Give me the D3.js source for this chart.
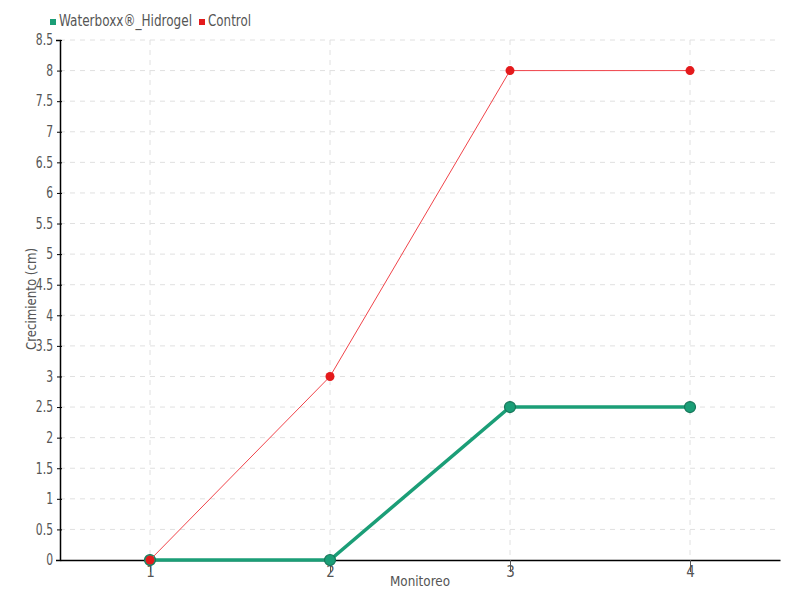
<!DOCTYPE html>
<html><head><meta charset="utf-8">
<script src="https://cdn.jsdelivr.net/npm/d3@7"></script>
<style>
body{margin:0;background:#fff;}
text{font-family:"DejaVu Sans Condensed","Liberation Sans Narrow",sans-serif;}
</style></head>
<body><svg id="c" width="800" height="600"></svg>
<script>
const categories = [1, 2, 3, 4];
const seriesNames = ["Waterboxx®_Hidrogel", "Control"];
const waterboxx = [0, 0, 2.5, 2.5];
const control = [0, 3, 8, 8];
const yTicks = [0,0.5,1,1.5,2,2.5,3,3.5,4,4.5,5,5.5,6,6.5,7,7.5,8,8.5];
const colors = ["#1b9e77", "#e41a1c"];

const svg = d3.select("#c");
const x = d3.scaleLinear().domain([0.5, 4.5]).range([60, 780]);
const y = d3.scaleLinear().domain([0, 8.5]).range([560, 40]);

// grid
svg.append("g").selectAll("line").data(yTicks.slice(1)).join("line")
  .attr("x1", 60).attr("x2", 780).attr("y1", d => y(d)).attr("y2", d => y(d))
  .attr("stroke", "#e0e0e0").attr("stroke-dasharray", "5,5");
svg.append("g").selectAll("line").data(categories).join("line")
  .attr("x1", d => x(d)).attr("x2", d => x(d)).attr("y1", 40).attr("y2", 560)
  .attr("stroke", "#e0e0e0").attr("stroke-dasharray", "5,5");

// axes
const sx = 0.8;
const yAxis = svg.append("g").attr("transform", "translate(60,0)")
  .call(d3.axisLeft(y).tickValues(yTicks).tickFormat(d3.format("~g")).tickSize(4).tickPadding(4));
yAxis.select(".domain").attr("stroke", "#000").attr("stroke-width", 1.5);
yAxis.selectAll(".tick line").attr("stroke", "#000").attr("x2", 2).attr("x1", -3);
yAxis.selectAll("text").attr("fill", "#555").attr("font-size", 15)
  .attr("x", -7 / sx).attr("transform", `scale(${sx},1)`);

const xAxis = svg.append("g").attr("transform", "translate(0,560)")
  .call(d3.axisBottom(x).tickValues(categories).tickFormat(d3.format("d")).tickSize(12).tickPadding(-6).tickSizeOuter(0));
xAxis.select(".domain").attr("stroke", "#000").attr("stroke-width", 1.5);
xAxis.selectAll(".tick line").attr("stroke", "#555");
xAxis.selectAll("text").attr("fill", "#555").attr("font-size", 15);

svg.append("text").attr("x", 420).attr("y", 586).attr("text-anchor", "middle")
  .attr("fill", "#555").attr("font-size", 14)
  .attr("textLength", 60).attr("lengthAdjust", "spacingAndGlyphs").text("Monitoreo");
svg.append("text").attr("transform", "translate(36,299) rotate(-90)").attr("text-anchor", "middle")
  .attr("fill", "#555").attr("font-size", 14)
  .attr("textLength", 102).attr("lengthAdjust", "spacingAndGlyphs").text("Crecimiento (cm)");

const line = d3.line().x((d, i) => x(categories[i])).y(d => y(d));

// green series
svg.append("path").datum(waterboxx).attr("d", line).attr("fill", "none")
  .attr("stroke", colors[0]).attr("stroke-width", 3.5);
svg.append("g").selectAll("circle").data(waterboxx).join("circle")
  .attr("cx", (d, i) => x(categories[i])).attr("cy", d => y(d)).attr("r", 5.5)
  .attr("fill", colors[0]).attr("stroke", "#17775a").attr("stroke-width", 1.2);

// red series
svg.append("path").datum(control).attr("d", line).attr("fill", "none")
  .attr("stroke", "#f0444a").attr("stroke-width", 1);
svg.append("g").selectAll("circle").data(control).join("circle")
  .attr("cx", (d, i) => x(categories[i])).attr("cy", d => y(d)).attr("r", 4.5)
  .attr("fill", colors[1]);

// legend
const legPos = [[50, 59, 133], [199, 208, 43]];
seriesNames.forEach((n, i) => {
  svg.append("rect").attr("x", legPos[i][0]).attr("y", 19).attr("width", 6).attr("height", 6).attr("fill", colors[i]);
  svg.append("text").attr("x", legPos[i][1]).attr("y", 26).attr("fill", "#555").attr("font-size", 15)
    .attr("textLength", legPos[i][2]).attr("lengthAdjust", "spacingAndGlyphs").text(n);
});
</script></body></html>
